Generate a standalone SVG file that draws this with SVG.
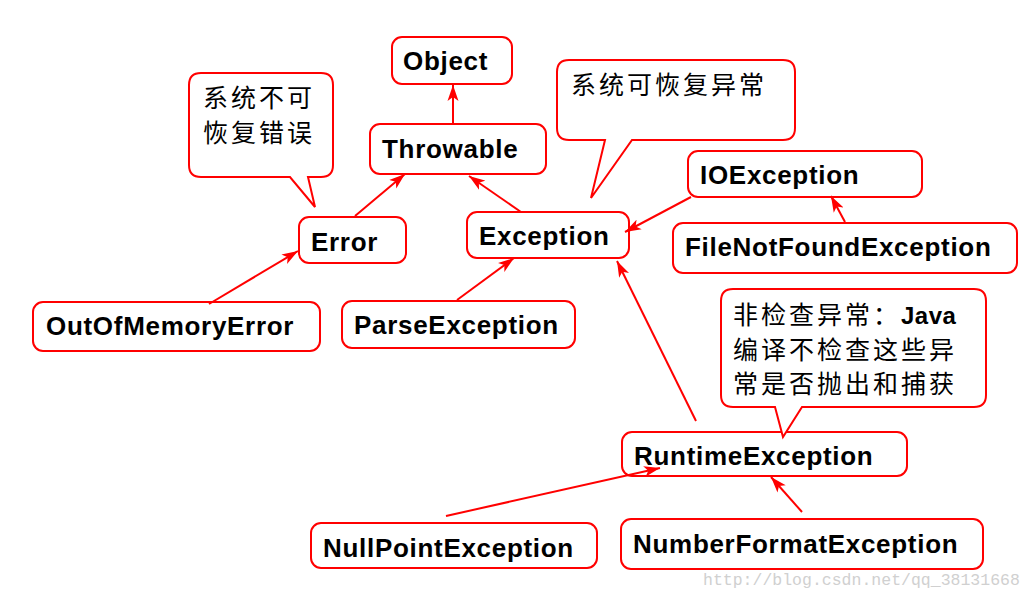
<svg xmlns="http://www.w3.org/2000/svg" width="1034" height="600" viewBox="0 0 1034 600">
<style>
.box{fill:#fff;stroke:#ff0000;stroke-width:2}
.lbl{font-family:"Liberation Sans",Arial,sans-serif;font-weight:bold;font-size:26px;letter-spacing:0.7px;fill:#000}
.cn{font-family:"Noto Sans CJK SC","Liberation Sans",sans-serif;font-size:25px;letter-spacing:3px;fill:#000}
.java{font-family:"Liberation Sans",sans-serif;font-weight:bold;font-size:24px;letter-spacing:0.5px}
.edge{stroke:#ff0000;stroke-width:2;fill:none;marker-end:url(#ah)}
.wm{font-family:"Liberation Mono",monospace;font-size:16.5px;fill:#d0d0d0}
</style>
<defs>
<marker id="ah" markerUnits="userSpaceOnUse" markerWidth="17" markerHeight="12" refX="16" refY="6" orient="auto">
<path d="M0,0.5 L16,6 L0,11.5 L4,6 Z" fill="#ff0000"/>
</marker>
</defs>
<rect width="1034" height="600" fill="#fff"/>
<g id="callout-error">
<path class="box" d="M201,73 H321 Q333,73 333,85 V165 Q333,177 321,177 H308 L315,207 L290,177 H201 Q189,177 189,165 V85 Q189,73 201,73 Z"/>
<text class="cn" x="203" y="107">系统不可</text>
<text class="cn" x="203" y="142">恢复错误</text>
</g>
<g id="callout-exception">
<path class="box" d="M569,60 H783 Q795,60 795,72 V128 Q795,140 783,140 H632 L591,198 L605,140 H569 Q557,140 557,128 V72 Q557,60 569,60 Z"/>
<text class="cn" x="571" y="94">系统可恢复异常</text>
</g>
<g id="node-object">
<rect class="box" x="392" y="37" width="120" height="47" rx="10"/>
<text class="lbl" x="403" y="70">Object</text>
</g>
<g id="node-throwable">
<rect class="box" x="370" y="124" width="176" height="50" rx="10"/>
<text class="lbl" x="382" y="158">Throwable</text>
</g>
<g id="node-error">
<rect class="box" x="299" y="217" width="107" height="46" rx="10"/>
<text class="lbl" x="311" y="251">Error</text>
</g>
<g id="node-exception">
<rect class="box" x="467" y="212" width="162" height="46" rx="10"/>
<text class="lbl" x="479" y="245">Exception</text>
</g>
<g id="node-ioexception">
<rect class="box" x="688" y="151" width="234" height="46" rx="10"/>
<text class="lbl" x="700" y="184">IOException</text>
</g>
<g id="node-filenotfound">
<rect class="box" x="673" y="223" width="344" height="50" rx="10"/>
<text class="lbl" x="685" y="256">FileNotFoundException</text>
</g>
<g id="node-outofmemory">
<rect class="box" x="33" y="302" width="287" height="49" rx="10"/>
<text class="lbl" x="46" y="335">OutOfMemoryError</text>
</g>
<g id="node-parseexception">
<rect class="box" x="342" y="301" width="233" height="47" rx="10"/>
<text class="lbl" x="354" y="334">ParseException</text>
</g>
<g id="node-runtime">
<rect class="box" x="622" y="432" width="285" height="44" rx="10"/>
<text class="lbl" x="634" y="465">RuntimeException</text>
</g>
<g id="node-nullpoint">
<rect class="box" x="311" y="523" width="286" height="45" rx="10"/>
<text class="lbl" x="323" y="557">NullPointException</text>
</g>
<g id="node-numberformat">
<rect class="box" x="621" y="519" width="362" height="50" rx="10"/>
<text class="lbl" x="633" y="553">NumberFormatException</text>
</g>
<g id="callout-runtime">
<path class="box" d="M733,289 H974 Q986,289 986,301 V395 Q986,407 974,407 H802 L783,437 L775,407 H733 Q721,407 721,395 V301 Q721,289 733,289 Z"/>
<text class="cn" x="733" y="324">非检查异常：<tspan class="java">Java</tspan></text>
<text class="cn" x="733" y="359">编译不检查这些异</text>
<text class="cn" x="733" y="393">常是否抛出和捕获</text>
</g>
<g id="connectors">
<line class="edge" x1="453" y1="124" x2="453" y2="85"/>
<line class="edge" x1="355" y1="216" x2="405" y2="174"/>
<line class="edge" x1="521" y1="212" x2="469" y2="176"/>
<line class="edge" x1="209" y1="304" x2="298" y2="251"/>
<line class="edge" x1="457" y1="300" x2="514" y2="258"/>
<line class="edge" x1="691" y1="197" x2="625" y2="232"/>
<line class="edge" x1="845" y1="222" x2="831" y2="196"/>
<line class="edge" x1="696" y1="421" x2="617" y2="261"/>
<line class="edge" x1="446" y1="516" x2="660" y2="468"/>
<line class="edge" x1="802" y1="512" x2="771" y2="477"/>
</g>
<text class="wm" x="703" y="585">http://blog.csdn.net/qq_38131668</text>
</svg>
